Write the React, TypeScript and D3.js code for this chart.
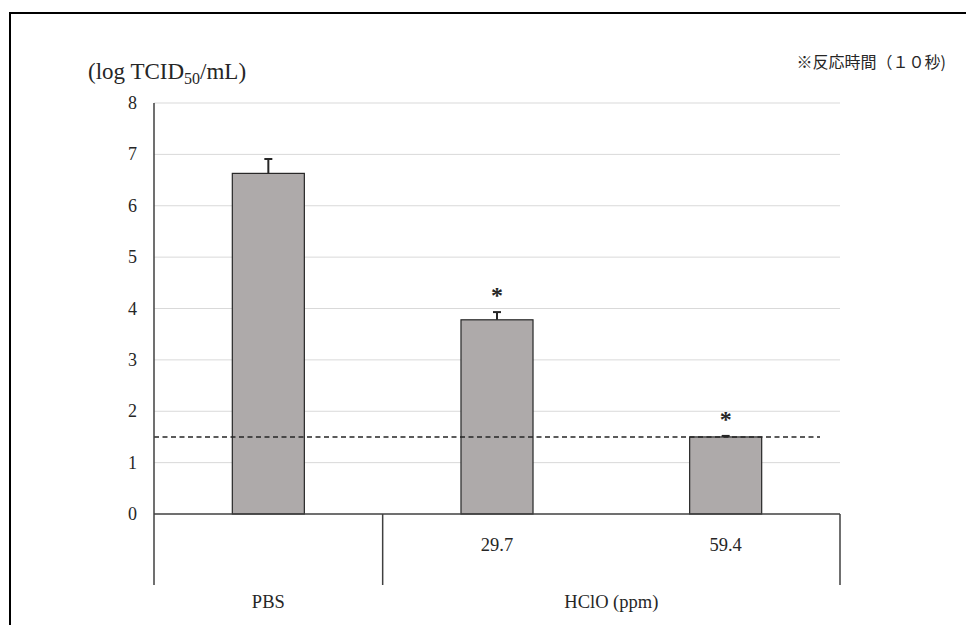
import * as d3 from 'd3';
import { useEffect, useRef } from 'react';

const categories = ['PBS', '29.7', '59.4'];
const groupLabels = ['PBS', 'HClO (ppm)'];
const values = [6.63, 3.78, 1.5];
const errors = [0.28, 0.15, 0.02];
const significant = [false, true, true];
const detectionLimit = 1.5;
const yTicks = [0, 1, 2, 3, 4, 5, 6, 7, 8];

const width = 966;
const height = 625;
const serif = "'Liberation Serif', 'Times New Roman', serif";

export default function App() {
  const ref = useRef<SVGSVGElement>(null);

  useEffect(() => {
    const svg = d3.select(ref.current);
    svg.selectAll('*').remove();

    const left = 154;
    const right = 840;
    const top = 103;
    const bottom = 514;
    const tableBottom = 585;

    const x = d3.scaleBand().domain(categories).range([left, right]).paddingInner(0).paddingOuter(0);
    const y = d3.scaleLinear().domain([0, 8]).range([bottom, top]);
    const barW = x.bandwidth() * 0.315;

    // outer frame (only top/left visible)
    svg.append('path')
      .attr('d', `M10,${height} V13 H${width}`)
      .attr('fill', 'none')
      .attr('stroke', '#000')
      .attr('stroke-width', 2);

    // gridlines
    svg.append('g')
      .selectAll('line')
      .data(yTicks.filter((t) => t > 0))
      .enter()
      .append('line')
      .attr('x1', left)
      .attr('x2', right)
      .attr('y1', (d) => y(d))
      .attr('y2', (d) => y(d))
      .attr('stroke', '#d9d9d9')
      .attr('stroke-width', 1);

    // tick labels
    svg.append('g')
      .selectAll('text')
      .data(yTicks)
      .enter()
      .append('text')
      .attr('x', 137)
      .attr('y', (d) => y(d) + 6)
      .attr('text-anchor', 'end')
      .attr('font-family', serif)
      .attr('font-size', 18)
      .attr('fill', '#262626')
      .text((d) => d);

    // bars
    svg.append('g')
      .selectAll('rect')
      .data(values)
      .enter()
      .append('rect')
      .attr('x', (d, i) => (x(categories[i]) as number) + x.bandwidth() / 2 - barW / 2)
      .attr('y', (d) => y(d))
      .attr('width', barW)
      .attr('height', (d) => bottom - y(d))
      .attr('fill', '#aeaaaa')
      .attr('stroke', '#262626')
      .attr('stroke-width', 1.2);

    // error bars
    const eb = svg.append('g');
    values.forEach((v, i) => {
      const cx = (x(categories[i]) as number) + x.bandwidth() / 2;
      eb.append('line')
        .attr('x1', cx).attr('x2', cx)
        .attr('y1', y(v)).attr('y2', y(v + errors[i]))
        .attr('stroke', '#262626').attr('stroke-width', 2);
      eb.append('line')
        .attr('x1', cx - 4).attr('x2', cx + 4)
        .attr('y1', y(v + errors[i])).attr('y2', y(v + errors[i]))
        .attr('stroke', '#262626').attr('stroke-width', 2);
      if (significant[i]) {
        eb.append('text')
          .attr('x', cx)
          .attr('y', y(v + errors[i]) - 9)
          .attr('text-anchor', 'middle')
          .attr('font-family', serif)
          .attr('font-size', 24)
          .attr('font-weight', 'bold')
          .attr('fill', '#262626')
          .text('*');
      }
    });

    // detection limit dashed line
    svg.append('line')
      .attr('x1', left)
      .attr('x2', 820)
      .attr('y1', y(detectionLimit))
      .attr('y2', y(detectionLimit))
      .attr('stroke', '#262626')
      .attr('stroke-width', 1.5)
      .attr('stroke-dasharray', '5,3.5');

    // axes and category table
    const axisColor = '#404040';
    svg.append('line')
      .attr('x1', left).attr('x2', left)
      .attr('y1', top).attr('y2', tableBottom)
      .attr('stroke', axisColor).attr('stroke-width', 1.5);
    svg.append('line')
      .attr('x1', left).attr('x2', right)
      .attr('y1', bottom).attr('y2', bottom)
      .attr('stroke', axisColor).attr('stroke-width', 1.5);
    const sep = x(categories[1]) as number;
    [sep, right].forEach((sx) => {
      svg.append('line')
        .attr('x1', sx).attr('x2', sx)
        .attr('y1', bottom).attr('y2', tableBottom)
        .attr('stroke', axisColor).attr('stroke-width', 1.5);
    });

    // sub-category labels
    categories.slice(1).forEach((c) => {
      svg.append('text')
        .attr('x', (x(c) as number) + x.bandwidth() / 2)
        .attr('y', 551)
        .attr('text-anchor', 'middle')
        .attr('font-family', serif)
        .attr('font-size', 18.5)
        .attr('fill', '#262626')
        .text(c);
    });

    // group labels
    const groupCenters = [(left + sep) / 2, (sep + right) / 2];
    groupLabels.forEach((g, i) => {
      svg.append('text')
        .attr('x', groupCenters[i])
        .attr('y', 608)
        .attr('text-anchor', 'middle')
        .attr('font-family', serif)
        .attr('font-size', 18.5)
        .attr('fill', '#262626')
        .text(g);
    });

    // y title
    const title = svg.append('text')
      .attr('x', 88)
      .attr('y', 79)
      .attr('font-family', serif)
      .attr('font-size', 23)
      .attr('fill', '#262626');
    title.append('tspan').text('(log TCID');
    title.append('tspan').attr('dy', 5).attr('font-size', 16).text('50');
    title.append('tspan').attr('dy', -5).text('/mL)');

    // note
    svg.append('text')
      .attr('x', 946)
      .attr('y', 68)
      .attr('text-anchor', 'end')
      .attr('font-family', "'Noto Sans CJK JP', sans-serif")
      .attr('font-size', 16)
      .attr('fill', '#262626')
      .text('※反応時間（１０秒)');
  }, []);

  return (
    <svg
      ref={ref}
      width={width}
      height={height}
      style={{ position: 'absolute', left: 0, top: 0, background: '#fff' }}
    />
  );
}
